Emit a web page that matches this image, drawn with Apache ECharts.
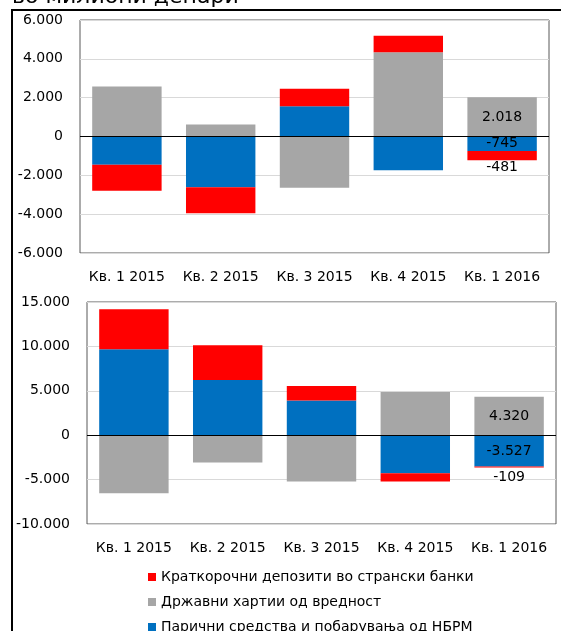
<!DOCTYPE html>
<html>
<head>
<meta charset="utf-8">
<script src="https://cdn.jsdelivr.net/npm/echarts@6/dist/echarts.min.js"></script>
<style>
  html, body { margin: 0; padding: 0; background: #fff; }
  #chart { width: 561px; height: 631px; }
</style>
</head>
<body>
<div id="chart"></div>
<script>
// Quarters
const categories = ["Кв. 1 2015", "Кв. 2 2015", "Кв. 3 2015", "Кв. 4 2015", "Кв. 1 2016"];

// Series names (legend order top to bottom)
const nameRed = "Краткорочни депозити во странски банки";
const nameGray = "Државни хартии од вредност";
const nameBlue = "Парични средства и побарувања од НБРМ";

// Upper panel values (millions of denars)
const topBlue = [-1460, -2610, 1560, -1735, -745];
const topGray = [2575, 620, -2645, 4340, 2018];
const topRed = [-1340, -1340, 900, 845, -481];

// Lower panel values
const bottomBlue = [9680, 6230, 3900, -4280, -3527];
const bottomGray = [-6530, -3085, -5225, 4875, 4320];
const bottomRed = [4510, 3900, 1650, -945, -109];

const fontFamily = "DejaVu Sans";
const colors = { red: "#FF0000", gray: "#A6A6A6", blue: "#0070C0" };

// 6000 -> "6.000"
const fmt = (v) => {
  const s = Math.abs(v).toString().replace(/\B(?=(\d{3})+(?!\d))/g, ".");
  return (v < 0 ? "-" : "") + s;
};

// Only the last quarter carries value labels
function withLabels(values, position, distance) {
  return values.map((v, i) =>
    i === values.length - 1
      ? {
          value: v,
          label: {
            show: true,
            position: position,
            distance: distance,
            formatter: (p) => fmt(p.value),
            color: "#000",
            fontSize: 14,
            fontFamily: fontFamily,
          },
        }
      : v
  );
}

function barSeries(name, values, color, axisIndex, stack, position, distance) {
  return {
    name: name,
    type: "bar",
    stack: stack,
    xAxisIndex: axisIndex,
    yAxisIndex: axisIndex,
    barWidth: "74%",
    itemStyle: { color: color },
    data: withLabels(values, position, distance),
    silent: true,
  };
}

const zeroLine = {
  silent: true,
  symbol: "none",
  label: { show: false },
  lineStyle: { color: "#000", width: 1, type: "solid" },
  data: [{ yAxis: 0 }],
};

const chart = echarts.init(document.getElementById("chart"), null, { renderer: "canvas" });

const xAxisBase = {
  type: "category",
  data: categories,
  axisLine: { onZero: false, show: false },
  axisTick: { show: false },
  axisLabel: { color: "#000", fontSize: 14, fontFamily: fontFamily, margin: 17, interval: 0 },
};

const yAxisBase = {
  type: "value",
  axisLine: { show: false },
  axisTick: { show: false },
  axisLabel: { color: "#000", fontSize: 14, fontFamily: fontFamily, margin: 17, formatter: fmt },
  splitLine: { lineStyle: { color: "#D9D9D9", width: 1 } },
};

const option = {
  animation: false,
  textStyle: { fontFamily: fontFamily },
  graphic: [
    {
      type: "text",
      left: 12,
      top: -14,
      style: { text: "во милиони денари", font: "22px 'DejaVu Sans'", fill: "#000" },
    },
    {
      type: "rect",
      shape: { x: 12, y: 10, width: 620, height: 700 },
      style: { fill: "none", stroke: "#000", lineWidth: 2 },
    },
  ],
  legend: {
    orient: "vertical",
    left: 143,
    top: 565,
    height: 90,
    itemWidth: 8,
    itemHeight: 8,
    itemGap: 11,
    icon: "rect",
    data: [nameRed, nameGray, nameBlue],
    textStyle: { color: "#000", fontSize: 14, fontFamily: fontFamily, lineHeight: 14 },
    selectedMode: false,
  },
  grid: [
    { left: 80, top: 20, width: 469, height: 233, show: true, borderColor: "#595959", borderWidth: 1 },
    { left: 87, top: 302, width: 469, height: 222, show: true, borderColor: "#595959", borderWidth: 1 },
  ],
  xAxis: [
    Object.assign({}, xAxisBase, { gridIndex: 0 }),
    Object.assign({}, xAxisBase, { gridIndex: 1 }),
  ],
  yAxis: [
    Object.assign({}, yAxisBase, { gridIndex: 0, min: -6000, max: 6000, interval: 2000 }),
    Object.assign({}, yAxisBase, { gridIndex: 1, min: -10000, max: 15000, interval: 5000 }),
  ],
  series: [
    Object.assign(barSeries(nameBlue, topBlue, colors.blue, 0, "top", "inside", 0), { markLine: zeroLine }),
    barSeries(nameGray, topGray, colors.gray, 0, "top", "inside", 0),
    barSeries(nameRed, topRed, colors.red, 0, "top", "bottom", 0),
    Object.assign(barSeries(nameBlue, bottomBlue, colors.blue, 1, "bottom", "inside", 0), { markLine: zeroLine }),
    barSeries(nameGray, bottomGray, colors.gray, 1, "bottom", "inside", 0),
    barSeries(nameRed, bottomRed, colors.red, 1, "bottom", "bottom", 3),
  ],
};

chart.setOption(option);
</script>
</body>
</html>
